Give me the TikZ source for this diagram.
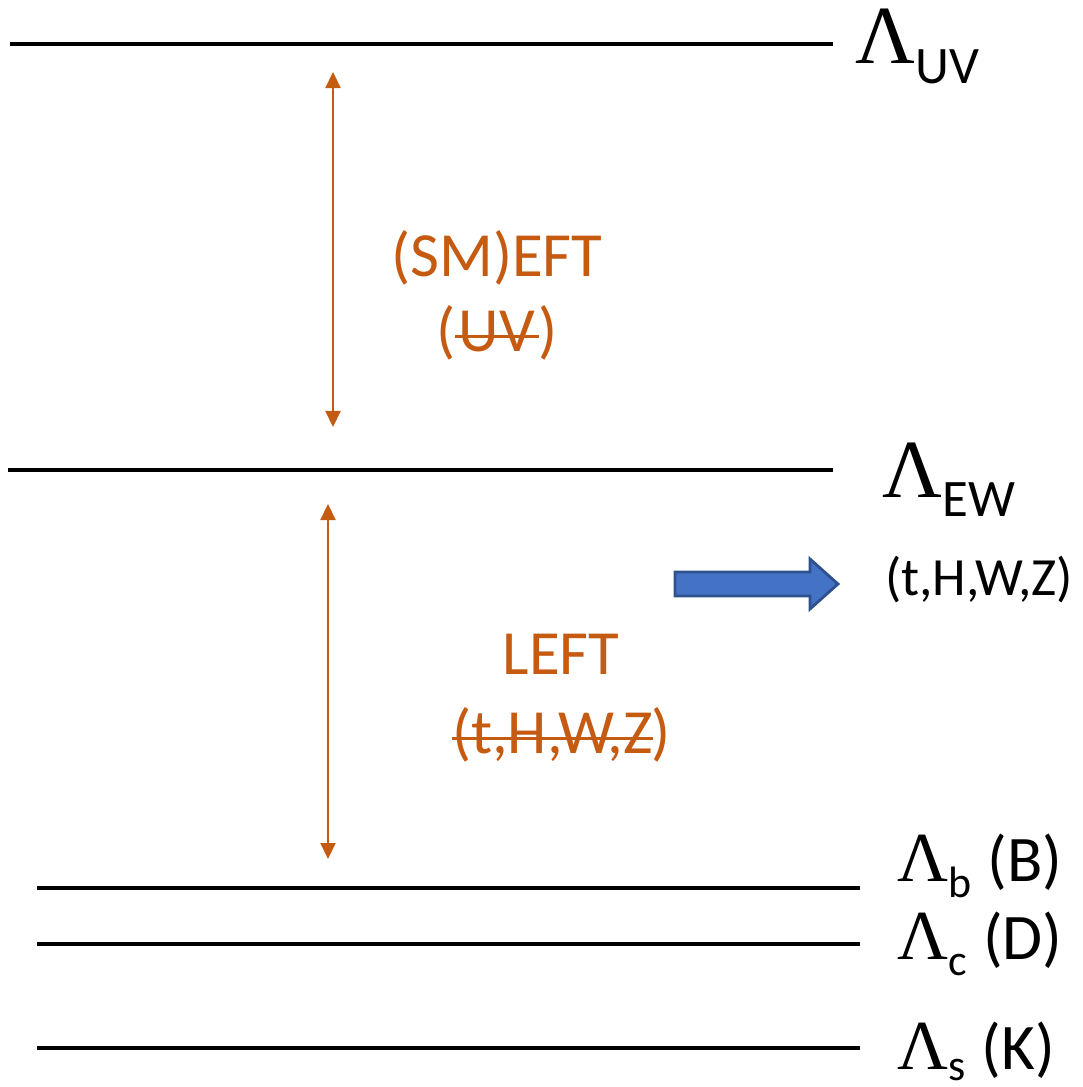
\documentclass[tikz,border=0pt]{standalone}
\usepackage{fontspec}
\setmainfont{Carlito}
\newfontfamily\lamfont{Liberation Serif}
\usetikzlibrary{arrows.meta,positioning,calc}
\definecolor{eftOrange}{HTML}{C55A11}
\definecolor{eftBlue}{HTML}{4472C4}
\definecolor{eftBlueLine}{HTML}{2F528F}
\newcommand{\scalebig}[1]{{\lamfont\fontsize{23.5}{28}\selectfont Λ}\raisebox{-0.2cm}{\fontsize{15}{18}\selectfont #1}}
\newcommand{\scalesmall}[3][-0.16cm]{{\lamfont\fontsize{20}{24}\selectfont Λ}\raisebox{#1}{\fontsize{12.5}{15}\selectfont #2}\hspace{0.16cm}{\fontsize{18.5}{22}\selectfont(#3)}}
\newcommand{\strikeout}[1]{\setbox0\hbox{#1}\rlap{\rule[0.22em]{\wd0}{0.9pt}}\box0}

\begin{document}
\begin{tikzpicture}
\tikzset{level/.style={line width=1pt, draw=black},
 scalerange/.style={{Triangle[length=1.6mm,width=1.5mm]}-{Triangle[length=1.6mm,width=1.5mm]}, draw=eftOrange, fill=eftOrange, line width=0.6pt},
 regime/.style={text=eftOrange, font=\fontsize{17.9}{21}\selectfont, inner sep=0pt},
 particles/.style={text=black, font=\fontsize{15.3}{18}\selectfont, inner sep=0pt},
 scalelabel/.style={anchor=base west, inner sep=0pt},
 bluearrow/.style={fill=eftBlue, draw=eftBlueLine, line width=0.8pt, line join=miter}}
\useasboundingbox (0,0) rectangle (10.83,10.87);

% scale levels
\coordinate (uvL) at (0.10,10.43); \coordinate (uvR) at (8.33,10.43);
\coordinate (ewL) at (0.08,6.17);  \coordinate (ewR) at (8.33,6.17);
\coordinate (bL) at (0.37,1.99);   \coordinate (bR) at (8.60,1.99);
\coordinate (cL) at (0.37,1.43);   \coordinate (cR) at (8.60,1.43);
\coordinate (sL) at (0.37,0.39);   \coordinate (sR) at (8.60,0.39);
\draw[level] (uvL) -- (uvR);
\draw[level] (ewL) -- (ewR);
\draw[level] (bL) -- (bR);
\draw[level] (cL) -- (cR);
\draw[level] (sL) -- (sR);

\node[scalelabel] (lamUV) at (8.55,10.24) {\scalebig{UV}};
\node[scalelabel] (lamEW) at (8.82,5.90) {\scalebig{EW}};
\node[scalelabel] (lamB) at (8.97,2.05) {\scalesmall{b}{B}};
\node[scalelabel] (lamC) at (8.97,1.27) {\scalesmall{c}{D}};
\node[scalelabel] (lamS) at (8.97,0.18) {\scalesmall[-0.11cm]{s}{K}};

% ranges of the two theories
\coordinate (eftTop) at (3.33,10.15); \coordinate (eftBot) at (3.33,6.60);
\coordinate (leftTop) at (3.28,5.83); \coordinate (leftBot) at (3.28,2.28);
\draw[scalerange] (eftTop) -- (eftBot);
\draw[scalerange] (leftTop) -- (leftBot);

\node[regime] (smeft) at (4.97,8.29) {(SM)EFT};
\node[regime] (smeftout) at (4.97,7.54) {(\strikeout{\kern1pt UV\kern1pt})};
\node[regime] (left) at (5.61,4.33) {LEFT};
\node[regime] (leftout) at (5.61,3.52) {\strikeout{(t,H,W,Z}\kern-0.5pt)};

% integrated out fields
\node[particles] (ewfields) at (9.79,5.07) {(t,H,W,Z)};
\coordinate (blueTail) at (6.75,5.03);
\draw[bluearrow, shift={(blueTail)}] (0,0.12) -- (1.35,0.12) -- (1.35,0.25) -- (1.63,0)
  -- (1.35,-0.25) -- (1.35,-0.12) -- (0,-0.12) -- cycle;
\end{tikzpicture}
\end{document}
